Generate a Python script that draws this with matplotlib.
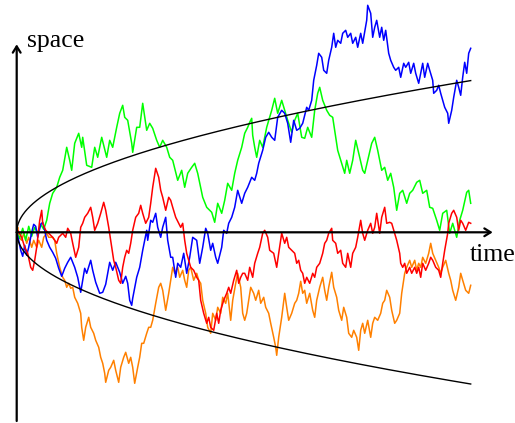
import numpy as np
import matplotlib
matplotlib.use("Agg")
import matplotlib.pyplot as plt

# four random walks sampled along the time axis (time in steps, displacement in pixels-per-step units)
green_t = [0, 3, 6, 9, 12, 15, 18, 21, 24, 27, 30, 33, 36, 40, 43, 46, 50, 53, 55, 58, 62, 65, 66, 70, 75,
           78, 81, 85, 90, 93, 96, 100, 103, 106, 108, 111, 115, 116, 120, 123, 126, 130, 133, 136, 140, 143,
           146, 150, 153, 156, 161, 165, 168, 171, 175, 178, 181, 186, 190, 195, 198, 201, 205, 208, 211, 215,
           218, 221, 225, 228, 231, 233, 235, 236, 238, 240, 243, 246, 250, 255, 258, 261, 265, 268, 271, 275,
           278, 281, 285, 288, 291, 295, 298, 301, 303, 306, 310, 313, 316, 318, 321, 325, 328, 330, 333, 336,
           339, 343, 346, 348, 351, 355, 358, 361, 365, 368, 371, 374, 377, 380, 383, 386, 390, 393, 396, 400,
           403, 406, 410, 413, 416, 420, 423, 426, 430, 433, 436, 440, 443, 446, 450, 452, 454]
green_s = [0, -6, 4, -8, 6, -4, 5, -1, 8, 3, 12, 29, 39, 45, 55, 62, 85, 72, 62, 89, 99, 85, 95, 67, 65,
           85, 75, 95, 75, 92, 85, 105, 119, 127, 115, 112, 89, 80, 105, 105, 129, 102, 109, 104, 92, 85,
           92, 85, 75, 72, 52, 62, 45, 59, 65, 69, 59, 35, 25, 20, 10, 29, 19, 32, 49, 42,
           59, 72, 85, 99, 105, 110, 114, 97, 85, 75, 92, 85, 105, 122, 134, 119, 132, 122, 112, 100,
           112, 119, 95, 94, 105, 95, 122, 139, 145, 132, 122, 117, 115, 102, 82, 69, 59, 72, 59, 72,
           92, 75, 62, 59, 72, 89, 95, 82, 62, 65, 52, 59, 45, 22, 39, 42, 29, 39, 42, 50,
           52, 39, 42, 25, 24, 12, 2, 19, 22, -1, 9, -5, 12, 22, 40, 42, 29]

blue_t = [0, 2, 4, 6, 8, 10, 12, 15, 17, 19, 21, 24, 26, 28, 30, 33, 36, 39, 42, 45, 48, 51, 54, 58, 61,
          64, 66, 68, 70, 74, 76, 79, 83, 86, 89, 93, 96, 99, 103, 106, 109, 111, 113, 115, 116, 120, 123,
          126, 130, 131, 134, 136, 139, 141, 144, 146, 149, 151, 154, 156, 159, 161, 164, 167, 170, 173,
          176, 180, 183, 186, 189, 191, 194, 196, 199, 201, 205, 207, 210, 212, 215, 218, 221, 225, 228,
          231, 235, 238, 240, 242, 246, 249, 252, 255, 258, 261, 265, 268, 271, 274, 277, 280, 283, 286,
          290, 292, 295, 297, 300, 302, 305, 307, 310, 312, 315, 317, 319, 321, 324, 326, 329, 331, 334,
          336, 339, 341, 344, 346, 350, 351, 354, 356, 358, 360, 363, 365, 367, 369, 372, 374, 377, 379,
          382, 384, 387, 389, 392, 394, 397, 399, 402, 404, 406, 408, 411, 413, 416, 417, 420, 422, 424,
          426, 428, 431, 432, 435, 437, 440, 442, 444, 446, 448, 450, 452, 454]
blue_s = [0, -8, -18, -24, -13, -23, -15, 0, 8, 6, -5, 8, 10, 2, -8, -15, -20, -26, -36, -44, -36, -30, -25, -35, -45,
          -60, -48, -36, -41, -28, -38, -50, -61, -60, -52, -30, -38, -30, -40, -51, -44, -51, -68, -73, -66, -45, -35,
          -18, 2, -8, 12, 10, 19, 5, -5, 5, 15, -8, -25, -25, -45, -31, -35, -21, -41, -25,
          -5, -8, -31, -15, 4, -1, -18, -11, -25, -31, -15, 2, -1, 9, 15, 25, 42, 29, 39,
          45, 55, 52, 59, 69, 82, 95, 100, 95, 92, 115, 122, 119, 109, 90, 112, 102, 104, 109,
          125, 122, 132, 152, 167, 179, 175, 162, 159, 172, 185, 199, 185, 192, 189, 199, 202, 195, 199,
          189, 195, 185, 199, 189, 212, 227, 219, 195, 205, 212, 195, 205, 192, 202, 179, 172, 165, 162,
          165, 155, 169, 165, 170, 159, 169, 159, 149, 159, 169, 155, 169, 162, 152, 139, 142, 147, 139,
          132, 125, 119, 109, 122, 135, 152, 145, 137, 155, 170, 159, 179, 184]

red_t = [0, 1, 5, 8, 11, 14, 16, 18, 20, 23, 25, 26, 29, 32, 36, 40, 42, 46, 49, 51, 54, 56, 59, 62, 64,
         66, 68, 71, 74, 76, 78, 81, 84, 87, 89, 92, 94, 97, 99, 102, 104, 106, 108, 110, 112, 114, 116,
         119, 122, 124, 126, 129, 132, 134, 136, 139, 142, 144, 146, 149, 152, 154, 156, 159, 162, 164,
         166, 168, 170, 172, 174, 177, 180, 182, 184, 187, 190, 192, 194, 197, 200, 202, 204, 207, 210,
         212, 214, 217, 220, 222, 224, 226, 228, 231, 233, 236, 238, 241, 243, 246, 248, 251, 253, 257,
         260, 262, 265, 268, 270, 272, 275, 278, 280, 282, 284, 286, 288, 290, 293, 296, 298, 300, 303,
         306, 308, 310, 312, 315, 316, 319, 321, 324, 326, 329, 331, 334, 336, 339, 341, 344, 346, 348,
         351, 354, 356, 358, 360, 363, 365, 368, 370, 373, 375, 378, 380, 383, 384, 386, 388, 390, 393,
         395, 398, 400, 402, 404, 406, 409, 412, 414, 416, 419, 422, 424, 426, 428, 431, 432, 435, 437,
         440, 442, 444, 446, 449, 452, 454]
red_s = [0, 2, -5, -15, -21, -35, -38, -28, -15, 12, 22, 9, 2, -1, -5, -11, -5, -1, -5, 4, -1, -11, -25, -15, 5,
         9, 15, 19, 25, 15, 2, 9, 19, 30, 22, 5, -8, -28, -35, -48, -51, -35, -25, -18, -21, -11, 2,
         15, 19, 27, 19, 9, 15, 29, 45, 64, 55, 42, 35, 22, 35, 32, 25, 15, 9, 5,
         9, -8, -21, -28, -35, -38, -45, -48, -68, -81, -91, -85, -95, -98, -81, -91, -78, -68, -61,
         -55, -61, -48, -38, -51, -45, -41, -41, -48, -35, -45, -31, -21, -15, -1, 2, -5, -18, -21,
         -35, -21, -1, -11, -5, -15, -18, -21, -31, -28, -38, -41, -51, -45, -51, -41, -45, -35, -31,
         -21, -11, -8, -1, 4, -8, -11, -21, -18, -31, -35, -21, -35, -21, -15, -5, 12, -1, -8,
         2, 9, -1, 5, 19, -1, 15, 25, 9, 10, 9, -1, -8, -21, -31, -35, -31, -41, -35,
         -41, -35, -41, -35, -45, -31, -38, -31, -25, -28, -35, -38, -45, -31, -18, -1, 9, 19, 22,
         15, 2, 12, 9, 2, 10, 9]

orange_t = [0, 1, 2, 5, 7, 10, 12, 15, 17, 20, 22, 25, 27, 30, 32, 36, 38, 40, 43, 46, 48, 50, 52, 54, 56,
            58, 61, 64, 65, 67, 69, 72, 74, 77, 79, 82, 84, 86, 88, 89, 92, 94, 97, 99, 102, 104, 107,
            109, 112, 114, 116, 118, 121, 123, 125, 127, 130, 132, 134, 136, 139, 142, 144, 146, 149, 152,
            154, 156, 158, 161, 163, 166, 168, 170, 172, 174, 177, 180, 182, 184, 186, 189, 191, 194, 196,
            199, 201, 204, 206, 209, 211, 214, 216, 219, 221, 224, 226, 228, 230, 232, 234, 237, 239, 242,
            244, 247, 249, 252, 254, 257, 259, 260, 262, 265, 268, 270, 272, 275, 278, 280, 282, 284, 286,
            288, 290, 293, 296, 298, 300, 303, 306, 308, 310, 312, 315, 317, 320, 322, 325, 327, 330, 332,
            335, 337, 340, 342, 344, 346, 348, 351, 354, 356, 358, 361, 364, 366, 368, 370, 373, 375, 378,
            380, 383, 385, 388, 390, 393, 395, 398, 400, 402, 404, 406, 409, 412, 414, 416, 419, 422, 424,
            426, 429, 432, 434, 436, 439, 442, 444, 446, 449, 452, 454]
orange_s = [0, 5, -5, -8, -1, -11, -5, -15, -8, -15, -8, -15, -5, -1, -5, -5, -8, -21, -35, -45, -48, -55, -51, -56, -55,
            -65, -71, -81, -95, -108, -95, -85, -95, -101, -108, -115, -125, -131, -141, -150, -138, -135, -128, -138, -150, -135, -125,
            -120, -131, -125, -135, -151, -135, -125, -111, -111, -101, -95, -95, -88, -71, -55, -51, -58, -78, -61,
            -48, -35, -41, -35, -45, -38, -48, -55, -38, -35, -48, -41, -48, -51, -68, -81, -95, -101, -81,
            -88, -75, -81, -65, -71, -61, -88, -68, -51, -41, -55, -81, -88, -81, -68, -55, -61, -68, -58,
            -71, -65, -75, -81, -91, -105, -115, -123, -105, -85, -61, -75, -88, -81, -71, -68, -61, -49, -61,
            -58, -71, -61, -78, -85, -68, -55, -45, -58, -68, -55, -40, -55, -65, -78, -88, -75, -85, -101,
            -105, -98, -105, -118, -98, -91, -101, -88, -105, -91, -85, -88, -81, -71, -68, -58, -65, -78, -91,
            -88, -81, -61, -41, -35, -28, -35, -28, -38, -31, -35, -25, -31, -21, -11, -21, -28, -35, -41,
            -35, -28, -41, -48, -58, -68, -55, -41, -48, -58, -61, -53]

step_sigma = 7.12  # step size; the envelope is step_sigma * sqrt(t)
t_end = 454

fig = plt.figure(figsize=(5.15, 4.23), dpi=100)
ax = fig.add_axes([0, 0, 1, 1])
ax.set_xlim(-16.7, 498.3)
ax.set_ylim(-190.7, 232.3)
ax.axis("off")

ax.plot(orange_t, orange_s, color=(1, 0.5, 0), lw=1.1, zorder=2)
ax.plot(green_t, green_s, color=(0, 1, 0), lw=1.1, zorder=2)
ax.plot(blue_t, blue_s, color=(0, 0, 1), lw=1.1, zorder=2)
ax.plot(red_t, red_s, color=(1, 0, 0), lw=1.1, zorder=2)

tt = np.linspace(0, t_end, 600)
env = step_sigma * np.sqrt(tt)
ax.plot(tt, env, color="black", lw=1.0, zorder=3)
ax.plot(tt, -env, color="black", lw=1.0, zorder=3)

# axes with open arrow heads
arrow = dict(arrowstyle="->,head_length=0.45,head_width=0.28", lw=1.6, color="black",
             shrinkA=0, shrinkB=0)
ax.annotate("", xy=(476, 0), xytext=(0, 0), arrowprops=arrow, zorder=4)
ax.annotate("", xy=(0, 188), xytext=(0, -188.7), arrowprops=arrow, zorder=4)

ax.text(10.3, 185.3, "space", fontsize=18.5, family="Liberation Serif", va="baseline", ha="left")
ax.text(453.3, -28.7, "time", fontsize=18.5, family="Liberation Serif", va="baseline", ha="left")

fig.savefig("out.png", dpi=100)
